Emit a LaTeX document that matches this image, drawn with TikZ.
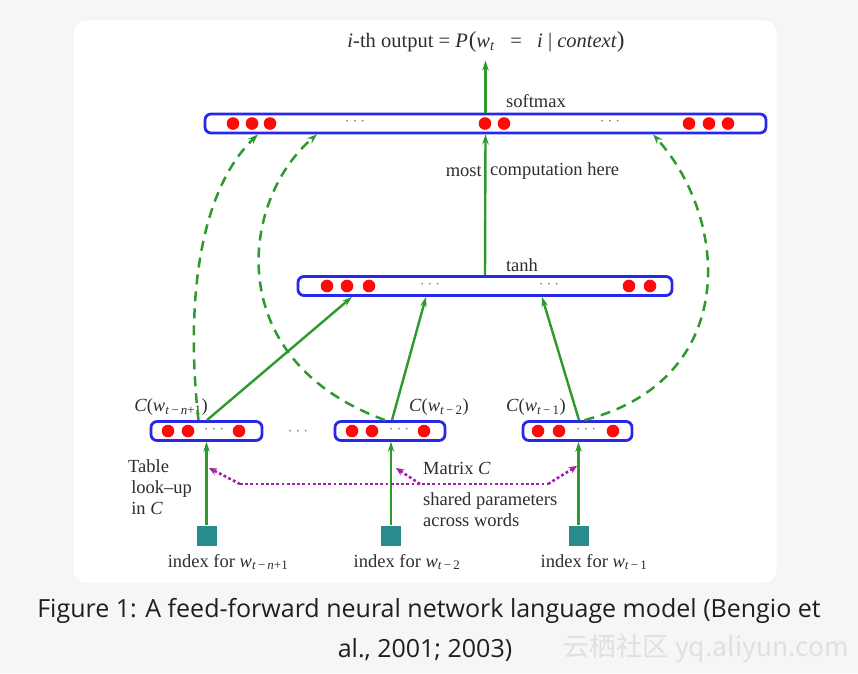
\documentclass[tikz,border=0pt]{standalone}
\usepackage{fontspec}
\setmainfont{Liberation Serif}
\newfontfamily\capfont{Open Sans}
\newfontfamily\cjkfont{Noto Sans CJK SC}
\usetikzlibrary{arrows.meta,calc}
\definecolor{bgc}{HTML}{F6F6F6}
\definecolor{barblue}{HTML}{2828E6}
\definecolor{dotred}{HTML}{FF0A0A}
\definecolor{grn}{HTML}{2E9A2E}
\definecolor{magc}{HTML}{A020A8}
\definecolor{sqteal}{HTML}{2A8C8C}
\definecolor{txtc}{HTML}{2E2E2E}
\tikzset{
  bar/.style={draw=barblue, line width=2.8pt, rounded corners=6pt, fill=white, minimum height=19pt, inner sep=0pt},
  garrow/.style={draw=grn, line width=2.4pt, -{Stealth[length=10pt,width=6.5pt]}},
  gdash/.style={draw=grn, line width=2.5pt, dash pattern=on 10pt off 7pt, -{Stealth[length=10pt,width=7pt]}},
  mdot/.style={draw=magc, line width=2.6pt, dash pattern=on 2.8pt off 2.4pt},
  mtip/.style={-{Stealth[length=8pt,width=7pt]}},
  sq/.style={fill=sqteal, minimum size=20pt, inner sep=0pt},
  lbl/.style={font=\fontsize{18.5}{21}\selectfont, text=txtc, inner sep=0pt},
  dd/.style={font=\fontsize{16}{18}\selectfont, text=gray, inner sep=0pt},
  capt/.style={font=\capfont\fontsize{25}{30}\selectfont, text=black!88, inner sep=0pt}
}
\newcommand{\rdot}[2]{\fill[dotred] (#1,#2) circle (6.3pt);}
\newcommand{\iv}[1]{\textit{#1}}
\newcommand{\sbs}[1]{\textsubscript{#1}}
\begin{document}
\begin{tikzpicture}[x=1pt,y=-1pt]
\useasboundingbox (0,0) rectangle (858,673);
\fill[bgc] (0,0) rectangle (858,673);
\draw[draw=black!7, fill=white, rounded corners=12pt] (73,20) rectangle (777,583);

% bars
\node[bar, minimum width=561pt] (soft) at (485.5,123.5) {};
\node[bar, minimum width=374pt] (tanh) at (485,286) {};
\node[bar, minimum width=111pt] (b1) at (206.5,431) {};
\node[bar, minimum width=110pt] (b2) at (390,431) {};
\node[bar, minimum width=109pt] (b3) at (577.5,431) {};

% dots
\foreach \x in {233,252,270,485,504,689,709,728} {\rdot{\x}{123.5}}
\node[dd] (sd1) at (355,122) {$\cdots$};
\node[dd] (sd2) at (610,122) {$\cdots$};
\foreach \x in {327,347,369,629,650} {\rdot{\x}{286}}
\node[dd] (td1) at (430,285) {$\cdots$};
\node[dd] (td2) at (549,285) {$\cdots$};
\foreach \x in {168,188,239} {\rdot{\x}{431}}
\node[dd] (d1) at (214,430) {$\cdots$};
\foreach \x in {352,372,424} {\rdot{\x}{431}}
\node[dd] (d2) at (399,430) {$\cdots$};
\foreach \x in {538,559,613} {\rdot{\x}{431}}
\node[dd] (d3) at (586,430) {$\cdots$};
\node[dd] (mid) at (298,432) {$\cdots$};

% squares
\node[sq] (s1) at (206.5,535.5) {};
\node[sq] (s2) at (391,535.5) {};
\node[sq] (s3) at (578.5,535.5) {};

% text
\node[lbl, font=\fontsize{20.5}{23}\selectfont] (out) at (486,42) {\iv{i}-th output = \iv{P}\kern1pt{\fontsize{23}{23}\selectfont(}\iv{w}\sbs{\iv{t}}\ \ \ =\ \ \ \iv{i}\ |\ \iv{context}{\fontsize{23}{23}\selectfont)}};
\node[lbl] (smx) at (536,101) {softmax};
\node[lbl, anchor=east] (most) at (482,171) {most};
\node[lbl, anchor=west] (comp) at (490,171) {computation here};
\node[lbl] (tanhl) at (522,265) {tanh};
\node[lbl] (c1) at (171,407) {\iv{C}(\iv{w}\sbs{\iv{t}\,−\,\iv{n}+1})};
\node[lbl] (c2) at (439,407) {\iv{C}(\iv{w}\sbs{\iv{t}\,−\,2})};
\node[lbl] (c3) at (536,407) {\iv{C}(\iv{w}\sbs{\iv{t}\,−\,1})};
\node[lbl, align=left, anchor=north west] (tab) at (128,459) {Table\\\,look{\textendash}up\\\,in \iv{C}};
\node[lbl, anchor=west] (mat) at (423,468) {Matrix \iv{C}};
\node[lbl, align=left, anchor=north west] (shp) at (423,492) {shared parameters\\across words};
\node[lbl] (i1) at (228,562) {index for \iv{w}\sbs{\iv{t}\,−\,\iv{n}+1}};
\node[lbl] (i2) at (407,562) {index for \iv{w}\sbs{\iv{t}\,−\,2}};
\node[lbl] (i3) at (594,562) {index for \iv{w}\sbs{\iv{t}\,−\,1}};

% solid arrows
\draw[garrow] (soft.north) -- ++(0,-52) coordinate (otop);
\draw[garrow] (tanh.north) -- (soft.south);
\draw[garrow] ([xshift=0.5pt]b1.north) -- ([xshift=-133pt]tanh.south);
\draw[garrow] ([xshift=2pt]b2.north) -- ([xshift=-59pt]tanh.south);
\draw[garrow] ([xshift=1.5pt]b3.north) -- ([xshift=57pt]tanh.south);
\draw[garrow] (s1.north) -- (s1.north |- b1.south);
\draw[garrow] (s2.north) -- (s2.north |- b2.south);
\draw[garrow] (s3.north) -- (s3.north |- b3.south);

% dashed arcs
\draw[gdash] ([xshift=-8pt]b1.north) .. controls (185,300) and (200,190) .. ([xshift=-227.5pt]soft.south);
\draw[gdash] ([xshift=-5pt]b2.north) .. controls (220,360) and (240,200) .. ([xshift=-168.5pt]soft.south);
\draw[gdash] ([xshift=7pt]b3.north) .. controls (740,380) and (730,220) .. ([xshift=167.5pt]soft.south);

% magenta shared-parameter links
\coordinate (m1) at (209,468);
\coordinate (m2) at (396,468);
\coordinate (m3) at (577,466);
\coordinate (k1) at (240,484);
\coordinate (k2) at (420,484);
\coordinate (k3) at (548,484);
\draw[mdot, mtip] (k1) -- (m1);
\draw[mdot] (k1) -- (k3);
\draw[mdot, mtip] (k3) -- (m3);
\draw[mdot, mtip] (k2) -- (m2);

% caption
\node[capt] (cap1) at (429,611) {Figure 1: A feed-forward neural network language model (Bengio et};
\node[capt] (cap2) at (425,650) {al., 2001; 2003)};
\node[font=\cjkfont\fontsize{26.5}{30}\selectfont, text=black!12, inner sep=0pt] (wm) at (706,648) {云栖社区 yq.aliyun.com};
\end{tikzpicture}
\end{document}
